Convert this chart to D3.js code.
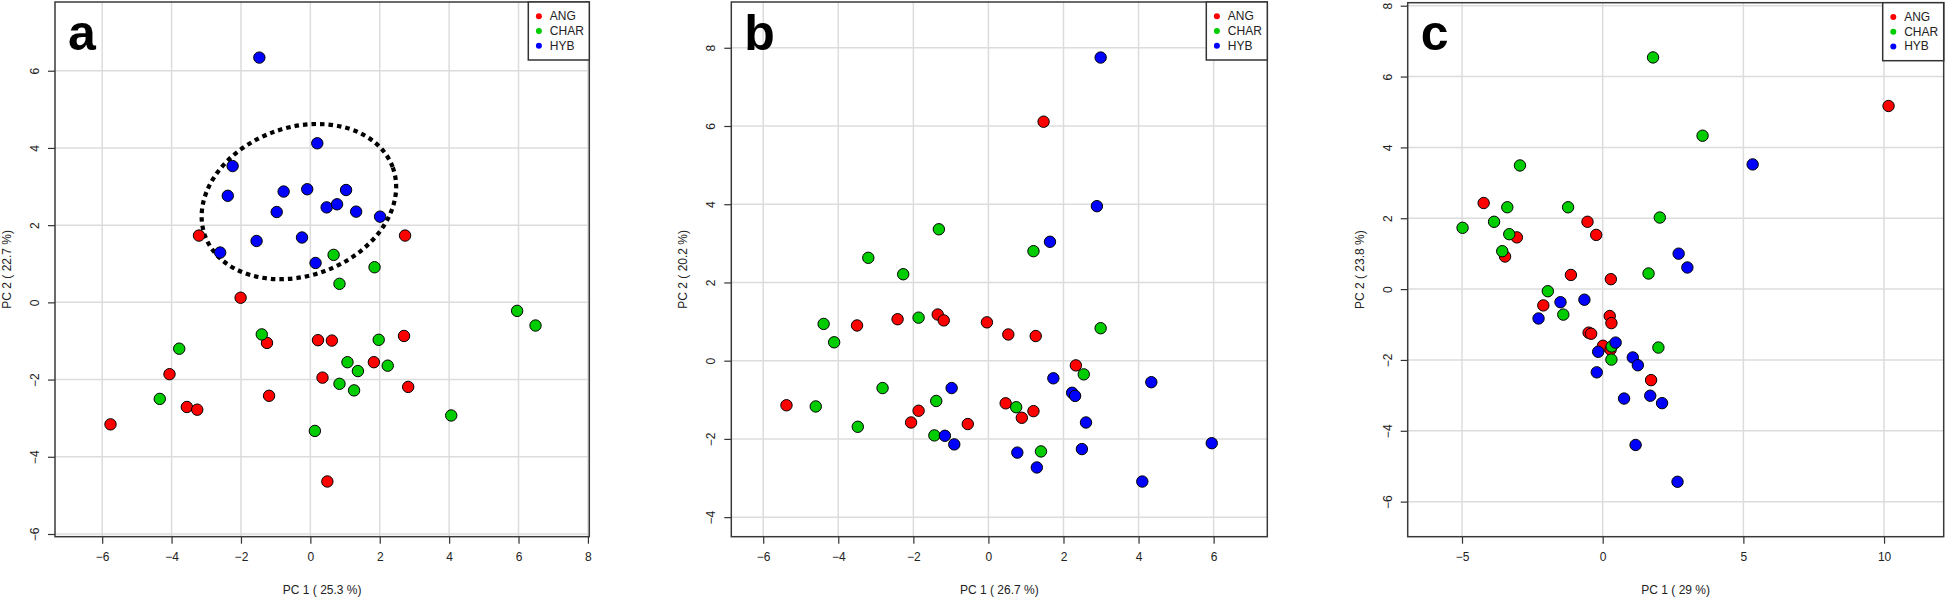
<!DOCTYPE html>
<html>
<head>
<meta charset="utf-8">
<script src="https://cdn.jsdelivr.net/npm/d3@7"></script>
<style>
  html, body { margin: 0; padding: 0; background: #fff; }
  svg { display: block; font-family: "Liberation Sans", Arial, sans-serif; }
</style>
</head>
<body>
<svg id="chart" width="1946" height="598"></svg>
<script>
// ---------------- DATA ----------------
const groups = ["ANG", "CHAR", "HYB"];
const groupColors = ["#ff0000", "#00cd00", "#0000ff"];

// Panel a
const a_ANG = [[-3.21,1.73],[2.73,1.73],[-2.01,0.12],[-1.25,-1.05],[0.22,-0.98],[0.62,-0.99],[2.70,-0.87],
  [1.83,-1.55],[0.35,-1.95],[2.82,-2.19],[-4.06,-1.86],[-1.19,-2.42],[-3.56,-2.71],[-3.26,-2.78],[-5.76,-3.16],[0.49,-4.64]];
const a_CHAR = [[0.67,1.23],[1.85,0.91],[0.84,0.48],[5.96,-0.22],[6.49,-0.60],[-1.40,-0.83],[-3.78,-1.20],
  [1.97,-0.97],[1.07,-1.55],[1.37,-1.78],[2.23,-1.64],[0.84,-2.11],[1.26,-2.28],[-4.34,-2.50],[4.06,-2.93],[0.13,-3.33]];
const a_HYB = [[-1.47,6.34],[0.20,4.12],[-2.24,3.53],[-2.38,2.76],[-0.77,2.87],[-0.09,2.93],[1.03,2.91],
  [0.47,2.46],[0.77,2.54],[-0.97,2.34],[1.32,2.35],[2.01,2.22],[-1.55,1.59],[-0.24,1.68],[-2.60,1.29],[0.15,1.02]];

// Panel b
const b_ANG = [[1.47,6.11],[-5.38,-1.14],[-3.50,0.90],[-2.42,1.06],[-1.35,1.18],[-1.19,1.03],[-0.04,0.98],
  [0.53,0.67],[1.26,0.63],[2.33,-0.12],[-1.86,-1.28],[-2.06,-1.58],[-0.55,-1.62],[0.46,-1.09],[0.89,-1.46],[1.20,-1.29]];
const b_CHAR = [[1.20,2.80],[-1.32,3.36],[-3.20,2.63],[-2.27,2.21],[-4.39,0.94],[-4.11,0.47],[-1.86,1.10],
  [2.99,0.83],[2.54,-0.35],[-2.82,-0.70],[-4.60,-1.17],[-3.48,-1.69],[-1.39,-1.03],[-1.44,-1.91],[0.74,-1.19],[1.40,-2.32]];
const b_HYB = [[2.99,7.75],[2.89,3.95],[1.64,3.04],[1.73,-0.45],[4.34,-0.55],[2.23,-0.82],[2.31,-0.90],
  [-0.98,-0.70],[2.60,-1.58],[-1.16,-1.92],[-0.91,-2.14],[0.77,-2.35],[1.29,-2.73],[2.49,-2.26],[5.95,-2.11],[4.10,-3.09]];

// Panel c
const c_ANG = [[10.16,5.17],[-4.23,2.43],[-0.54,1.90],[-0.23,1.53],[-3.05,1.46],[-3.47,0.92],[-1.13,0.40],
  [0.29,0.28],[-2.11,-0.46],[0.25,-0.76],[0.31,-0.96],[-0.50,-1.23],[-0.41,-1.26],[0.01,-1.60],[0.28,-1.71],[1.72,-2.57]];
const c_CHAR = [[1.79,6.54],[3.55,4.33],[-2.94,3.49],[-3.39,2.31],[-1.23,2.31],[-4.98,1.73],[-3.86,1.90],
  [2.03,2.02],[-3.32,1.55],[-3.57,1.07],[1.63,0.44],[-1.95,-0.06],[-1.40,-0.72],[0.32,-1.62],[1.98,-1.65],[0.31,-1.99]];
const c_HYB = [[5.33,3.52],[2.70,1.00],[3.01,0.61],[-1.50,-0.37],[-0.65,-0.30],[-2.28,-0.83],[0.46,-1.51],
  [-0.16,-1.77],[1.07,-1.93],[1.25,-2.15],[-0.21,-2.35],[0.76,-3.09],[1.69,-3.01],[2.11,-3.22],[1.17,-4.40],[2.66,-5.44]];

// tick labels
const a_xTicks = [-6,-4,-2,0,2,4,6,8];
const a_yTicks = [-6,-4,-2,0,2,4,6];
const b_xTicks = [-6,-4,-2,0,2,4,6];
const b_yTicks = [-4,-2,0,2,4,6,8];
const c_xTicks = [-5,0,5,10];
const c_yTicks = [-6,-4,-2,0,2,4,6,8];

const panelLetters = ["a","b","c"];
const xTitles = ["PC 1 ( 25.3 %)", "PC 1 ( 26.7 %)", "PC 1 ( 29 %)"];
const yTitles = ["PC 2 ( 22.7 %)", "PC 2 ( 20.2 %)", "PC 2 ( 23.8 %)"];

// ellipse in panel a (data units): center x, center y, x-radius, y-radius, screen rotation (deg)
const a_ellipse = [-0.33, 2.61, 2.88, 1.92, -20];

// ---------------- LAYOUT ----------------
const panels = [
  { letter: panelLetters[0], xT: xTitles[0], yT: yTitles[0],
    series: [a_ANG, a_CHAR, a_HYB], xTicks: a_xTicks, yTicks: a_yTicks,
    xDom: [-7.36, 8.04], yDom: [-6.07, 7.78], left: 55, right: 589.3, top: 2, bottom: 536.7,
    ellipse: a_ellipse },
  { letter: panelLetters[1], xT: xTitles[1], yT: yTitles[1],
    series: [b_ANG, b_CHAR, b_HYB], xTicks: b_xTicks, yTicks: b_yTicks,
    xDom: [-6.85, 7.43], yDom: [-4.5, 9.17], left: 731.3, right: 1267.3, top: 2, bottom: 536.7 },
  { letter: panelLetters[2], xT: xTitles[2], yT: yTitles[2],
    series: [c_ANG, c_CHAR, c_HYB], xTicks: c_xTicks, yTicks: c_yTicks,
    xDom: [-6.93, 12.12], yDom: [-6.99, 8.085], left: 1407.7, right: 1943.7, top: 2.7, bottom: 536.7 }
];

const svg = d3.select("#chart");
svg.append("rect").attr("width", 1946).attr("height", 598).attr("fill", "#fff");

panels.forEach(p => {
  const x = d3.scaleLinear().domain(p.xDom).range([p.left, p.right]);
  const y = d3.scaleLinear().domain(p.yDom).range([p.bottom, p.top]);
  const g = svg.append("g");
  const W = p.right - p.left, H = p.bottom - p.top;

  // grid
  g.append("g").selectAll("line.vx").data(p.xTicks).join("line")
    .attr("x1", d => x(d)).attr("x2", d => x(d))
    .attr("y1", p.top).attr("y2", p.bottom)
    .attr("stroke", "#dcdcdc").attr("stroke-width", 1.5);
  g.append("g").selectAll("line.hy").data(p.yTicks).join("line")
    .attr("y1", d => y(d)).attr("y2", d => y(d))
    .attr("x1", p.left).attr("x2", p.right)
    .attr("stroke", "#dcdcdc").attr("stroke-width", 1.5);

  // axes
  const xAxis = d3.axisBottom(x).tickValues(p.xTicks).tickSize(7).tickPadding(9).tickFormat(d3.format("d"));
  const gx = g.append("g").attr("transform", `translate(0,${p.bottom})`).call(xAxis);
  gx.select(".domain").remove();
  gx.selectAll("line").attr("stroke", "#333").attr("stroke-width", 1.2);
  gx.selectAll("text").attr("font-size", 12).attr("fill", "#222")
    .attr("font-family", "Liberation Sans, Arial, sans-serif");

  const yAxis = d3.axisLeft(y).tickValues(p.yTicks).tickSize(7).tickFormat(d3.format("d"));
  const gy = g.append("g").attr("transform", `translate(${p.left},0)`).call(yAxis);
  gy.select(".domain").remove();
  gy.selectAll("line").attr("stroke", "#333").attr("stroke-width", 1.2);
  gy.selectAll("text")
    .attr("x", null).attr("dy", null)
    .attr("transform", "translate(-20,0) rotate(-90)")
    .attr("text-anchor", "middle").attr("dominant-baseline", "central")
    .attr("font-size", 12).attr("fill", "#222")
    .attr("font-family", "Liberation Sans, Arial, sans-serif");

  // box
  g.append("rect").attr("x", p.left).attr("y", p.top).attr("width", W).attr("height", H)
    .attr("fill", "none").attr("stroke", "#3a3a3a").attr("stroke-width", 1.5);

  // titles
  g.append("text").attr("x", (p.left + p.right) / 2).attr("y", 594)
    .attr("text-anchor", "middle").attr("font-size", 12).attr("fill", "#222").text(p.xT);
  g.append("text")
    .attr("transform", `translate(${p.left - 48},${(p.top + p.bottom) / 2}) rotate(-90)`)
    .attr("text-anchor", "middle").attr("dominant-baseline", "central")
    .attr("font-size", 12).attr("fill", "#222").text(p.yT);

  // ellipse
  if (p.ellipse) {
    const [cx, cy, rxd, ryd, ang] = p.ellipse;
    const px = x(cx), py = y(cy);
    const rx = x(cx + rxd) - x(cx), ry = y(cy) - y(cy + ryd);
    g.append("ellipse").attr("cx", 0).attr("cy", 0).attr("rx", rx).attr("ry", ry)
      .attr("transform", `translate(${px},${py}) rotate(${ang})`)
      .attr("fill", "none").attr("stroke", "#000").attr("stroke-width", 4.2)
      .attr("stroke-dasharray", "4.5,4");
  }

  // points
  p.series.forEach((s, i) => {
    g.append("g").selectAll("circle").data(s).join("circle")
      .attr("cx", d => x(d[0])).attr("cy", d => y(d[1])).attr("r", 5.7)
      .attr("fill", groupColors[i]).attr("stroke", "#000").attr("stroke-width", 1);
  });

  // panel letter
  g.append("text").attr("x", p.left + 13).attr("y", 50)
    .attr("font-size", 50).attr("font-weight", "bold").attr("fill", "#000")
    .attr("font-family", "Liberation Sans, Arial, sans-serif").text(p.letter);

  // legend
  const lgW = 61, lgH = 58;
  const lg = g.append("g").attr("transform", `translate(${p.right - lgW},${p.top})`);
  lg.append("rect").attr("x", 0).attr("y", 0).attr("width", lgW).attr("height", lgH)
    .attr("fill", "#fff").attr("stroke", "#333").attr("stroke-width", 1.5);
  groups.forEach((name, i) => {
    const yy = 14.3 + i * 14.7;
    lg.append("circle").attr("cx", 10.6).attr("cy", yy).attr("r", 3).attr("fill", groupColors[i]);
    lg.append("text").attr("x", 21.5).attr("y", yy).attr("dominant-baseline", "central")
      .attr("font-size", 12).attr("fill", "#222").text(name);
  });
});
</script>
</body>
</html>
